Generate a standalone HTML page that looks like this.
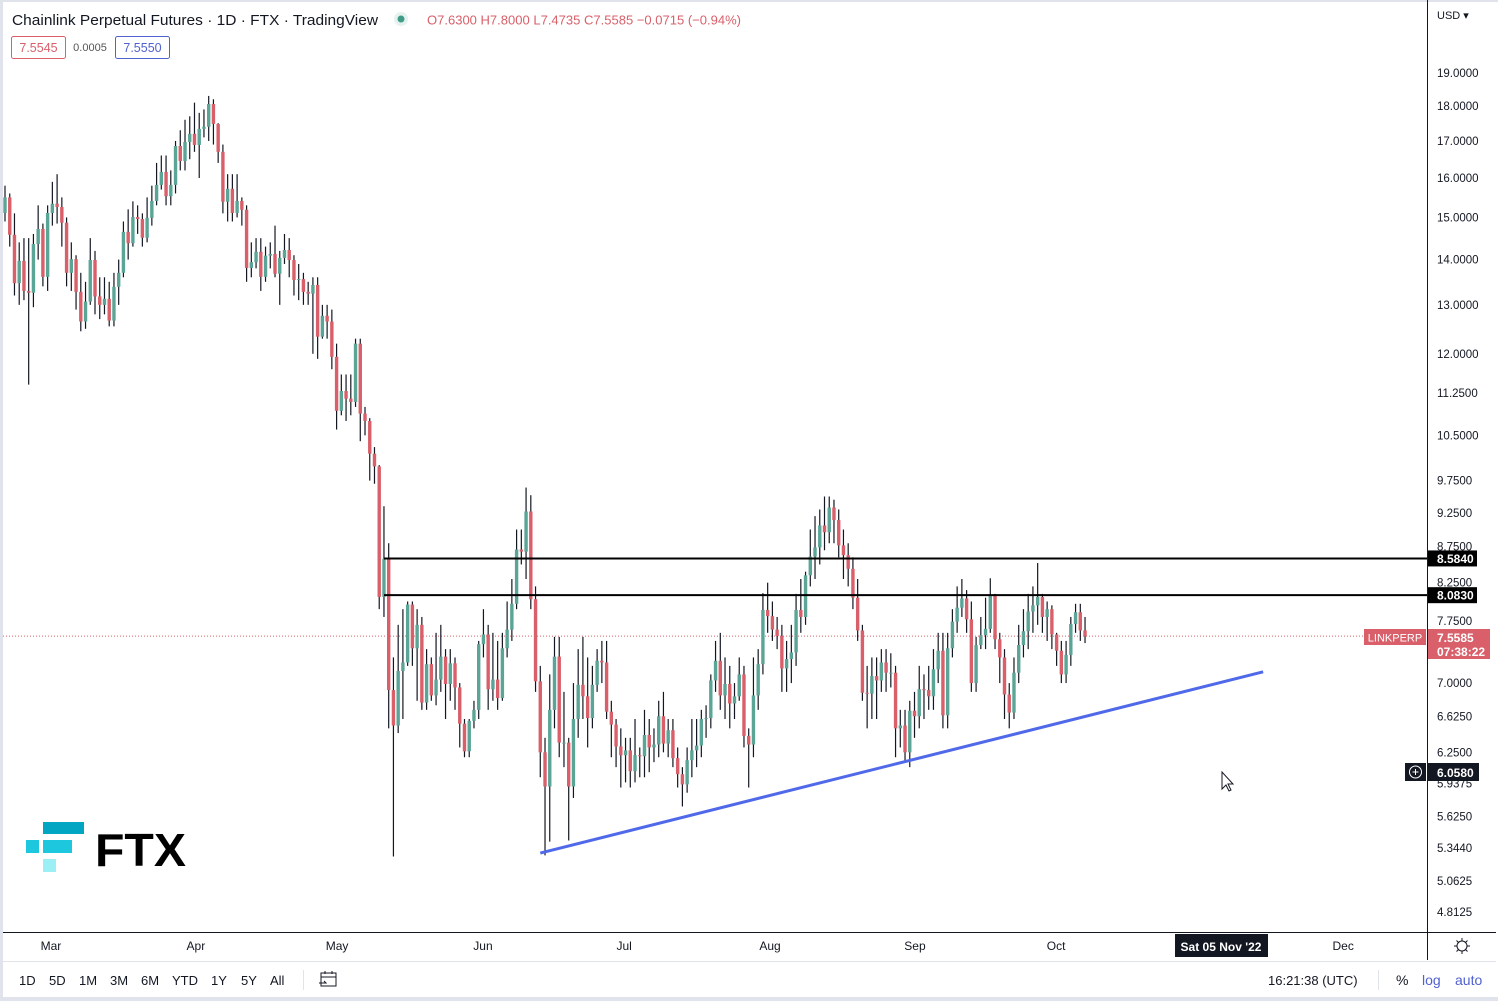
<!DOCTYPE html>
<html><head><meta charset="utf-8"><style>
body{margin:0;width:1498px;height:1001px;overflow:hidden;background:#fff;font-family:"Liberation Sans",sans-serif}
svg{position:absolute;left:0;top:0}
</style></head><body>
<svg id="chart" width="1498" height="1001" xmlns="http://www.w3.org/2000/svg">
<rect x="0" y="0" width="1498" height="1001" fill="#fff"/>
<rect x="0" y="0" width="3" height="1001" fill="#e0e3eb"/>
<rect x="0" y="0" width="1498" height="2" fill="#e0e3eb"/>
<rect x="0" y="997" width="1498" height="4" fill="#e0e3eb"/>
<line x1="1427.5" y1="0" x2="1427.5" y2="960" stroke="#131722"/>
<line x1="3" y1="932.5" x2="1496" y2="932.5" stroke="#131722"/>
<line x1="3" y1="961.5" x2="1496" y2="961.5" stroke="#e0e3eb"/>
<g id="ticks"></g>
<g id="months"></g>
<line x1="3" y1="637.5" x2="1427" y2="637.5" stroke="#d9606a" stroke-dasharray="1,2" id="lastline"/>
<g id="candles"></g>
<g id="levels"></g>
<line id="trend" stroke="#5069e8" stroke-width="3"/>
<g>
<rect x="43" y="822" width="41" height="12" fill="#02a6c2"/>
<rect x="26" y="840" width="13" height="13" fill="#1dc8de"/>
<rect x="43" y="840" width="29" height="13" fill="#1dc8de"/>
<rect x="43" y="859" width="13" height="13" fill="#9beff5"/>
<text x="95" y="866" font-size="46" font-weight="bold" fill="#000" textLength="91" lengthAdjust="spacingAndGlyphs">FTX</text>
</g>
<text x="12" y="25" font-size="15" fill="#131722" textLength="366" lengthAdjust="spacingAndGlyphs">Chainlink Perpetual Futures · 1D · FTX · TradingView</text>
<circle cx="401" cy="19" r="7" fill="#e6f2ef"/>
<circle cx="401" cy="19" r="3.5" fill="#3e9c87"/>
<text x="427" y="24.5" font-size="13" fill="#d9606a" textLength="314" lengthAdjust="spacingAndGlyphs">O7.6300 H7.8000 L7.4735 C7.5585 −0.0715 (−0.94%)</text>
<rect x="11.5" y="36.5" width="54" height="22" rx="2" fill="#fff" stroke="#d9606a"/>
<text x="38.5" y="52" font-size="12.5" fill="#d9606a" text-anchor="middle">7.5545</text>
<text x="90" y="51" font-size="11" fill="#555" text-anchor="middle">0.0005</text>
<rect x="115.5" y="36.5" width="54" height="22" rx="2" fill="#fff" stroke="#5061d0"/>
<text x="142.5" y="52" font-size="12.5" fill="#5061d0" text-anchor="middle">7.5550</text>
<text x="1437" y="19" font-size="11" fill="#131722">USD ▾</text>
<rect x="1281" y="0" width="146" height="2" fill="#e0e3eb"/>
<rect x="1364" y="629" width="62" height="16" fill="#d9606a"/>
<text x="1395" y="641.5" font-size="11" fill="#fff" text-anchor="middle">LINKPERP</text>
<rect x="1428" y="629" width="62" height="30" fill="#d9606a"/>
<text x="1437" y="642" font-size="12" font-weight="bold" fill="#fff">7.5585</text>
<text x="1437" y="656" font-size="12" font-weight="bold" fill="#fff">07:38:22</text>
<rect x="1405" y="763" width="21" height="18" fill="#131722"/>
<circle cx="1415.5" cy="772" r="6" fill="none" stroke="#fff"/>
<path d="M1412.5 772h6M1415.5 769v6" stroke="#fff"/>
<rect x="1428" y="763" width="51" height="18" fill="#131722"/>
<text x="1437" y="777" font-size="12" font-weight="bold" fill="#fff">6.0580</text>
<path d="M1222 772 l0 17 l4 -4 l3 6 l2 -1 l-3 -6 l5 0 z" fill="#fff" stroke="#131722"/>
<rect x="1175" y="934" width="93" height="23" fill="#131722"/>
<text x="1221" y="951" font-size="12" font-weight="bold" fill="#fff" text-anchor="middle">Sat 05 Nov '22</text>
<g stroke="#131722" fill="none"><circle cx="1462" cy="946" r="5"/><path d="M1462 938v3M1462 951v3M1454 946h3M1467 946h3M1456.5 940.5l2 2M1465.5 949.5l2 2M1456.5 951.5l2-2M1465.5 942.5l2-2"/></g>
<g font-size="13" fill="#131722">
<text x="19" y="985">1D</text>
<text x="49" y="985">5D</text>
<text x="79" y="985">1M</text>
<text x="110" y="985">3M</text>
<text x="141" y="985">6M</text>
<text x="172" y="985">YTD</text>
<text x="211" y="985">1Y</text>
<text x="241" y="985">5Y</text>
<text x="270" y="985">All</text>
</g>
<line x1="303.5" y1="970" x2="303.5" y2="990" stroke="#e0e3eb"/>
<g stroke="#131722" fill="none"><rect x="321" y="973" width="15" height="13"/><path d="M321 977h15M325 971v3M332 971v3M319 983h7l-2-2"/></g>
<text x="1268" y="985" font-size="13" fill="#131722">16:21:38 (UTC)</text>
<line x1="1378.5" y1="970" x2="1378.5" y2="990" stroke="#e0e3eb"/>
<text x="1396" y="985" font-size="14" fill="#131722">%</text>
<text x="1422" y="985" font-size="14" fill="#5061d0">log</text>
<text x="1455" y="985" font-size="14" fill="#5061d0">auto</text>
</svg>
<script>
const closes=[15.50,14.58,13.47,13.97,13.30,13.26,14.36,14.72,13.61,15.11,15.34,15.26,14.87,13.70,14.01,13.28,12.65,13.07,13.99,13.18,13.00,13.13,12.67,13.39,13.70,14.65,14.38,15.01,14.96,14.51,14.99,15.41,15.82,16.16,15.53,15.82,16.86,16.45,16.97,17.20,16.89,17.34,17.40,18.06,17.48,16.70,15.39,15.72,15.11,15.41,15.19,13.81,13.94,14.18,13.61,14.09,14.13,13.68,14.04,14.22,13.99,13.54,13.56,13.28,13.24,13.43,12.34,12.77,12.65,11.94,10.93,11.29,11.15,11.09,12.20,10.88,10.75,10.19,9.98,8.06,8.58,6.92,6.53,7.14,7.24,7.96,7.41,7.70,6.78,7.22,6.86,7.04,7.31,6.99,7.23,6.95,6.55,6.26,6.58,6.70,7.46,7.58,6.93,7.04,6.83,7.41,7.64,7.97,8.71,8.68,9.27,8.03,7.02,6.25,5.91,6.70,7.31,6.35,6.35,5.91,6.60,6.98,6.85,6.61,6.98,7.26,7.24,6.68,6.54,6.31,6.22,6.27,6.06,6.22,6.21,6.43,6.30,6.33,6.63,6.34,6.48,6.19,6.03,5.93,6.17,6.27,6.32,6.60,6.61,7.03,7.26,6.86,6.99,6.77,6.85,7.10,6.42,6.33,6.86,7.22,7.89,7.81,7.64,7.56,7.17,7.28,7.36,7.89,7.80,8.35,8.61,8.74,9.06,8.96,9.33,9.14,8.77,8.63,8.44,8.05,7.63,6.89,6.88,7.08,7.03,7.24,7.12,7.12,6.50,6.53,6.25,6.69,6.63,6.93,6.92,6.85,7.16,7.38,6.64,7.41,7.74,7.92,8.04,7.77,7.00,7.45,7.57,7.65,8.09,7.52,7.30,6.87,6.67,7.12,7.45,7.62,7.87,7.95,8.06,7.80,7.90,7.58,7.38,7.10,7.33,7.71,7.86,7.63,7.5585];
const highs=[15.80,15.60,15.1,14.4,14.5,14.5,14.6,15.3,14.85,15.3,15.9,16.1,15.5,15.0,14.4,14.1,13.7,13.5,14.5,14.2,13.6,13.6,13.5,13.7,14.0,14.9,15.2,15.4,15.3,15.1,15.5,15.8,16.4,16.6,16.6,16.2,17.0,17.3,17.6,17.7,18.1,17.8,17.9,18.3,18.2,17.5,16.9,16.1,16.1,16.1,15.5,15.3,14.4,14.5,14.5,14.3,14.4,14.8,14.2,14.6,14.5,14.1,13.9,13.7,13.5,13.6,13.6,13.0,13.0,12.9,12.2,11.6,11.6,11.6,12.3,12.3,11.0,10.8,10.3,10.0,9.35,8.8,7.3,7.7,7.9,8.0,8.0,7.9,7.8,7.4,7.3,7.6,7.7,7.4,7.4,7.3,7.0,6.6,6.6,6.8,7.5,7.9,7.7,7.6,7.5,7.6,8.0,8.3,9.0,9.0,9.64,9.52,8.2,7.2,6.4,7.1,7.55,7.55,6.9,6.4,7.0,7.4,7.55,7.3,7.2,7.4,7.5,7.5,6.8,6.6,6.5,6.4,6.4,6.6,6.3,6.7,6.6,6.5,6.8,6.9,6.6,6.6,6.3,6.1,6.3,6.6,6.6,6.7,6.75,7.1,7.5,7.6,7.3,7.2,7.0,7.3,7.2,6.5,7.3,7.4,8.11,8.25,8.0,7.8,7.7,7.5,7.7,8.1,8.3,8.4,9.0,9.2,9.3,9.5,9.5,9.45,9.3,9.0,8.8,8.6,8.3,7.7,7.2,7.3,7.3,7.4,7.4,7.35,7.2,6.7,6.7,6.8,6.9,7.2,7.1,7.2,7.4,7.6,7.6,7.6,7.9,8.2,8.3,8.15,8.0,7.55,7.8,8.05,8.31,8.1,7.6,7.4,7.0,7.3,7.7,7.9,8.1,8.2,8.52,8.1,8.0,7.95,7.6,7.5,7.5,7.8,7.97,7.97,7.80];
const lows=[14.90,14.30,13.2,13.0,13.1,11.41,12.95,14.0,13.4,13.3,14.8,14.85,14.3,13.4,13.3,12.9,12.45,12.5,13.0,12.8,12.7,12.8,12.55,12.55,13.0,13.6,14.0,14.3,14.6,14.3,14.4,14.8,15.3,15.7,15.3,15.3,15.6,16.2,16.2,16.5,16.7,16.0,17.1,17.0,16.9,16.4,15.1,14.9,14.9,15.0,14.8,13.5,13.6,13.8,13.3,13.5,13.8,13.6,13.0,13.9,13.6,13.2,13.1,13.0,13.0,12.0,11.9,12.3,12.3,11.7,10.6,10.85,10.75,10.85,11.0,10.4,10.5,9.75,9.7,7.9,7.8,6.5,5.27,6.45,6.6,7.2,7.2,6.8,6.7,6.7,6.8,6.75,6.9,6.6,6.8,6.7,6.3,6.2,6.2,6.5,6.6,7.3,6.7,6.8,6.7,6.8,7.3,7.5,7.9,8.5,8.3,7.9,6.9,6.0,5.28,5.40,6.5,6.2,6.1,5.41,5.8,6.4,6.6,6.3,6.5,6.9,7.0,6.6,6.2,6.1,5.9,5.95,5.9,5.95,6.0,6.0,6.05,6.15,6.2,6.25,6.2,6.1,5.9,5.72,5.85,6.0,6.1,6.2,6.4,6.5,6.9,6.7,6.6,6.5,6.6,6.8,6.3,5.9,6.2,6.7,7.1,7.6,7.5,7.4,6.9,6.9,7.0,7.2,7.6,7.7,8.2,8.3,8.5,8.7,8.8,8.8,8.6,8.3,8.2,7.9,7.5,6.8,6.5,6.6,6.6,6.9,6.9,6.95,6.2,6.3,6.15,6.1,6.4,6.5,6.6,6.7,6.7,7.0,6.5,6.5,7.3,7.6,7.8,7.6,6.9,6.9,7.4,7.4,7.6,7.4,7.0,6.6,6.5,6.6,7.0,7.3,7.4,7.6,7.7,7.6,7.5,7.4,7.2,7.0,7.0,7.2,7.6,7.5,7.4735];
const firstOpen=15.11;
const tickLabels=["19.0000","18.0000","17.0000","16.0000","15.0000","14.0000","13.0000","12.0000","11.2500","10.5000","9.7500","9.2500","8.7500","8.2500","7.7500","7.0000","6.6250","6.2500","5.9375","5.6250","5.3440","5.0625","4.8125"];
const monthLabels=["Mar","Apr","May","Jun","Jul","Aug","Sep","Oct","Dec"];
const monthDay=[9.7,40.3,70.1,100.9,130.7,161.5,192.1,221.9,282.5];
const levelPrices=[8.584,8.083];
const trendStart=[113,5.30];
const trendEnd=[265.6,7.13];

const NS="http://www.w3.org/2000/svg";
const TOP=19, BOT=4.8125, YT=73, YB=912;
function y(p){return YT+(Math.log(TOP)-Math.log(p))/(Math.log(TOP)-Math.log(BOT))*(YB-YT);}
const X0=5, STEP=4.737;
function x(i){return X0+i*STEP;}
function mk(tag,attrs,parent){const e=document.createElementNS(NS,tag);for(const k in attrs)e.setAttribute(k,attrs[k]);parent.appendChild(e);return e;}

const tg=document.getElementById('ticks');
tickLabels.forEach(t=>{
  const el=mk('text',{x:1437,y:y(parseFloat(t))+4,'font-size':11.5,fill:'#131722'},tg);
  
  
  el.textContent=t;
});
const mg=document.getElementById('months');
monthLabels.forEach((m,i)=>{
  const el=mk('text',{x:x(monthDay[i]),y:950,'font-size':12,fill:'#131722','text-anchor':'middle'},mg);
  
  
  el.textContent=m;
});
const cg=document.getElementById('candles');
closes.forEach((c,i)=>{
  const o=i===0?firstOpen:closes[i-1];
  const up=c>=o;
  const col=up?'#5ba597':'#d9606a';
  const cx=x(i);
  const w=mk('line',{x1:cx,x2:cx,y1:y(highs[i]),y2:y(lows[i]),stroke:'#131722','stroke-width':1.2},cg);
  
  
  const t=y(Math.max(o,c)), b=y(Math.min(o,c));
  const r=mk('rect',{x:cx-1.7,y:t,width:3.4,height:Math.max(1,b-t),fill:col},cg);
  
  
});
const lg=document.getElementById('levels');
levelPrices.forEach(p=>{
  const yy=y(p);
  const l=mk('line',{x1:384,x2:1427,y1:yy,y2:yy,stroke:'#000','stroke-width':2},lg);
  
  
  const r=mk('rect',{x:1428,y:yy-8,width:49,height:16,fill:'#000'},lg);
  
  
  const t=mk('text',{x:1437,y:yy+4.5,'font-size':12,'font-weight':'bold',fill:'#fff'},lg);
  
  
  t.textContent=p.toFixed(4);
});
const tr=document.getElementById('trend');
tr.setAttribute('x1',x(trendStart[0]));tr.setAttribute('y1',y(trendStart[1]));
tr.setAttribute('x2',x(trendEnd[0]));tr.setAttribute('y2',y(trendEnd[1]));
const ll=document.getElementById('lastline');
const ly=y(closes[closes.length-1]);
ll.setAttribute('y1',ly);ll.setAttribute('y2',ly);
</script>
</body></html>
